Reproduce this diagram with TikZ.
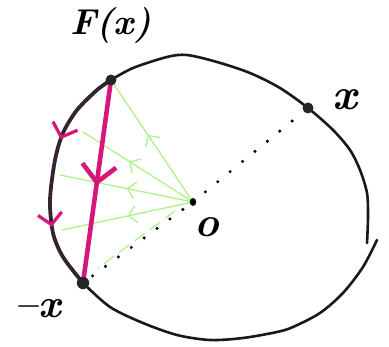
\documentclass[tikz,border=0pt]{standalone}
\usepackage{fontspec}
\usetikzlibrary{arrows.meta,decorations.markings}
\definecolor{mag}{RGB}{214,22,120}
\definecolor{lgreen}{RGB}{178,240,140}
\definecolor{arcdark}{RGB}{52,36,46}
\tikzset{
  rim/.style={line width=2.6pt, line cap=round, line join=round, draw=black!90},
  leftarc/.style={line width=3.8pt, draw=arcdark, line cap=round},
  chord/.style={line width=4.6pt, draw=mag, line cap=round},
  ray/.style={line width=1.3pt, draw=lgreen, line cap=round},
  dotline/.style={line width=3.4pt, line cap=round, dash pattern=on 0pt off 16pt},
  bigdot/.style={fill=black!85},
  lab/.style={inner sep=0pt, font=\fontsize{#1}{#1}\selectfont\bfseries\itshape},
}
\begin{document}
\begin{tikzpicture}[x=1pt,y=-1pt]
\useasboundingbox (0,0) rectangle (389,347);
% key points
\coordinate (Fx) at (111,80);
\coordinate (xp) at (308,108);
\coordinate (mx) at (83,283);
\coordinate (O) at (193,202);
\coordinate (a1) at (83,132);
\coordinate (a2) at (60,175);
\coordinate (a3) at (62,230);
\coordinate (gA) at (175,211);
\coordinate (gB) at (98,268);
\coordinate (gapU) at (367,243);
\coordinate (gapL) at (377,240);
% green rays
\foreach \e/\p in {Fx/0.55, a1/0.58, a2/0.5, a3/0.5}{
  \draw[ray, postaction={decorate}, decoration={markings, mark=at position \p\space with {\arrow{Straight Barb[length=8pt,width=17pt]}}}] (O) -- (\e);
}
\draw[ray, dash pattern=on 12pt off 7pt] (gA) -- (gB);
% circle: upper part
\draw[rim] plot[smooth, tension=0.5] coordinates {(gapU) (368,217) (367,193) (360,170) (350,150) (333,130) (xp) (280,88) (250,73) (217,62) (187,55) (167,57) (133,68) (Fx)};
% lower part
\draw[rim] plot[smooth, tension=0.5] coordinates {(gapL) (363,267) (343,293) (320,313) (293,327) (277,332) (243,338) (210,340) (177,335) (143,323) (110,307) (mx)};
% left arc
\draw[leftarc, postaction={decorate}, decoration={markings,
   mark=at position 0.34 with {\arrow[mag, line width=3.2pt]{Straight Barb[length=12pt,width=26pt]}},
   mark=at position 0.72 with {\arrow[mag, line width=3.2pt]{Straight Barb[length=11pt,width=24pt]}}}]
  plot[smooth, tension=0.5] coordinates {(Fx) (97,90) (77,110) (63,133) (55,160) (50,200) (53,233) (63,257) (mx)};
% magenta chord
\draw[chord, postaction={decorate}, decoration={markings, mark=at position 0.52 with {\arrow{Straight Barb[length=17pt,width=34pt]}}}] (Fx) -- (mx);
% dotted diameter
\draw[dotline, shorten <=12pt] (mx) -- (O);
\draw[dotline, shorten <=16pt, shorten >=8pt] (O) -- (xp);
% dots
\fill[bigdot] (Fx) circle (5.5);
\fill[bigdot] (xp) circle (5.5);
\fill[bigdot] (mx) circle (6.2);
\fill[black] (O) ellipse (3.2 and 4);
% labels
\node[lab=36] (lF) at (111,25) {F(x)};
\node[lab=44] (lx) at (345,100) {x};
\node[lab=40] (lmx) at (38,309) {–x};
\node[lab=42] (lO) at (207,227) {o};
\end{tikzpicture}
\end{document}
